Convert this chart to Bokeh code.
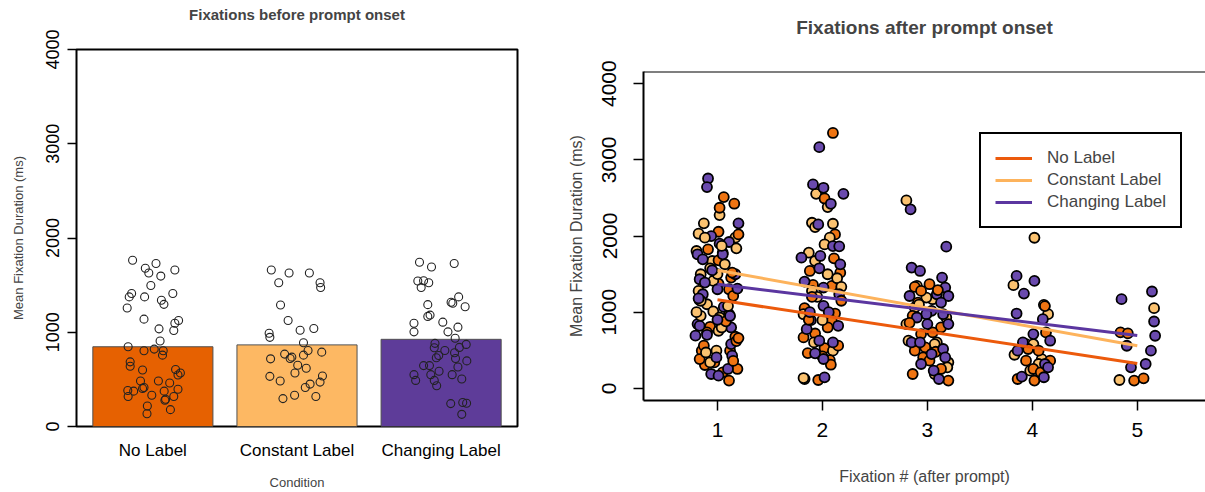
from bokeh.plotting import figure
from bokeh.layouts import row, column
from bokeh.models import (FixedTicker, Span, Legend, LegendItem, ColumnDataSource,
                          Range1d, Title)
from bokeh.embed import file_html
from bokeh.resources import INLINE

FONT = "Liberation Sans"

# ---------------- data: left panel ----------------
conditions = ["No Label", "Constant Label", "Changing Label"]
bar_means = [846, 866, 925]
bar_colors = ["#E66101", "#FDB863", "#5E3C99"]

nolabel_pre_jit = [-0.169, 0.026, -0.063, 0.183, -0.034, 0.066, -0.017, 0.166, -0.177, -0.069,
                   -0.197, 0.071, 0.092, -0.214, -0.074, 0.214, 0.183, 0.051, 0.174, 0.060,
                   -0.206, -0.074, 0.011, 0.086, 0.080, -0.189, -0.189, -0.086, 0.189, 0.229,
                   0.209, -0.103, 0.046, 0.140, -0.209, -0.160, -0.074, -0.086, 0.209, -0.009,
                   0.094, -0.206, 0.174, 0.106, 0.100, -0.046, 0.146, -0.049]
nolabel_pre_ms = [1764, 1729, 1679, 1661, 1629, 1596, 1496, 1411, 1411, 1375,
                  1375, 1339, 1296, 1257, 1139, 1125, 1096, 1036, 1018, 907,
                  846, 804, 821, 804, 757, 686, 639, 600, 604, 568,
                  546, 482, 482, 461, 382, 375, 414, 404, 396, 332,
                  375, 318, 318, 289, 279, 218, 179, 136]
constant_pre_jit = [-0.214, -0.066, 0.103, -0.152, 0.192, 0.197, -0.137, -0.074, 0.026, 0.140,
                    -0.232, -0.226, 0.054, 0.092, -0.103, -0.043, 0.206, -0.220, -0.057, 0.054,
                    0.006, 0.077, -0.017, -0.226, 0.212, -0.140, 0.192, 0.109, 0.069, -0.020,
                    -0.117, 0.157]
constant_pre_ms = [1661, 1629, 1629, 1525, 1525, 1475, 1289, 1125, 1021, 1039,
                   989, 946, 889, 807, 768, 736, 789, 718, 721, 757,
                   650, 618, 568, 532, 536, 482, 471, 450, 414, 332,
                   296, 318]
changing_pre_jit = [-0.180, -0.080, 0.109, -0.194, -0.146, -0.103, -0.166, -0.111, 0.083, 0.146,
                    0.200, 0.097, -0.092, -0.111, 0.014, -0.226, -0.226, 0.057, 0.140, 0.117,
                    -0.051, -0.057, 0.031, 0.152, 0.209, 0.112, -0.020, -0.040, 0.120, 0.214,
                    -0.097, -0.146, -0.017, 0.140, -0.226, -0.212, -0.086, 0.092, -0.057, 0.172,
                    -0.037, 0.080, 0.180, 0.212, 0.172]
changing_pre_ms = [1743, 1693, 1729, 1543, 1546, 1525, 1475, 1293, 1318, 1375,
                   1271, 1307, 1182, 1168, 1107, 1096, 1004, 1004, 1054, 936,
                   882, 836, 807, 839, 871, 782, 754, 729, 721, 696,
                   646, 646, 586, 632, 550, 489, 550, 550, 489, 504,
                   432, 243, 254, 246, 129]

# ---------------- data: right panel ----------------
fix_ticks = [1, 2, 3, 4, 5]

nolabel_fix = [1]*30 + [2]*24 + [3]*18 + [4]*10 + [5]*4
nolabel_jit = [0.06, 0.16, 0.02, 0.01, 0.20, -0.09, 0.05, 0.01, 0.13, 0.01,
               0.11, 0.15, 0.11, -0.07, -0.10, 0.17, 0.12, -0.15, -0.12, -0.03,
               0.19, 0.11, -0.17, 0.05, 0.08, 0.18, 0.20, -0.13, 0.14, 0.15,
               0.10, 0.02, 0.12, 0.11, -0.12, 0.17, -0.09, 0.09, -0.17, 0.12,
               0.09, 0.05, -0.07, -0.18, 0.02, -0.14, 0.07, 0.08, -0.04, 0.18,
               -0.13, 0.15, 0.00, -0.10,
               -0.12, 0.02, -0.06, -0.09, -0.14, 0.13, 0.05, -0.06, -0.02, -0.12,
               -0.04, -0.14, 0.13, 0.20, 0.02, 0.10, -0.17, 0.08,
               0.13, -0.04, 0.06, 0.17, -0.06, 0.01, 0.02, -0.14, 0.08, 0.12,
               -0.16, -0.09, -0.03, 0.06]
nolabel_ms = [2511, 2424, 2371, 2056, 2021, 1825, 1781, 1681, 1454, 1375,
              1301, 1214, 974, 808, 734, 677, 494, 494, 306, 340,
              254, 101, 384, 210, 880, 620, 660, 560, 1520, 360,
              3353, 2493, 2021, 1707, 1541, 1519, 1358, 1345, 1052, 982,
              886, 799, 720, 668, 529, 463, 371, 310, 109, 1150,
              900, 560, 420, 1200,
              1331, 1367, 1279, 1126, 952, 799, 734, 712, 537, 494,
              406, 188, 254, 101, 363, 1290, 860, 480,
              734, 516, 494, 363, 363, 254, 101, 122, 210, 1080,
              734, 721, 101, 131]

constant_fix = [1]*28 + [2]*20 + [3]*14 + [4]*10 + [5]*2
constant_jit = [0.02, -0.13, -0.18, 0.17, -0.12, -0.20, -0.05, 0.18, 0.07, -0.07,
                -0.16, -0.04, -0.18, -0.17, -0.10, -0.04, 0.02, -0.16, 0.01, 0.04,
                -0.01, -0.07, -0.20, -0.16, 0.00, 0.10, 0.04, -0.11,
                -0.06, 0.05, -0.10, 0.10, -0.07, 0.07, 0.02, -0.13, -0.07, 0.05,
                0.14, -0.10, 0.18, -0.05, -0.18, 0.00, -0.08, 0.10, -0.17, -0.18,
                -0.20, -0.10, 0.05, -0.01, -0.12, 0.18, -0.20, -0.18, 0.09, 0.07,
                0.20, 0.07, 0.19, -0.08,
                0.02, -0.18, 0.11, 0.15, -0.06, 0.01, 0.09, -0.17, 0.06, -0.02,
                0.16, -0.17]
constant_ms = [2275, 2166, 2030, 1978, 1978, 1803, 1672, 1838, 1629, 1576,
               1498, 1410, 1279, 1157, 1104, 1009, 930, 952, 756, 799,
               494, 340, 1000, 1150, 1500, 1080, 1870, 470,
               2554, 2380, 2174, 2161, 2117, 1978, 1890, 1781, 1672, 1498,
               1445, 1279, 1332, 1200, 973, 895, 603, 494, 122, 135,
               2467, 1345, 1170, 1191, 1061, 930, 843, 625, 603, 581,
               341, 188, 275, 1100,
               1977, 1354, 1096, 974, 581, 581, 384, 441, 319, 232,
               1052, 109]

changing_fix = [1]*31 + [2]*26 + [3]*24 + [4]*13 + [5]*8
changing_jit = [-0.09, -0.10, 0.20, -0.06, 0.11, 0.02, -0.19, -0.14, 0.05, 0.17,
                -0.17, -0.12, 0.00, -0.14, 0.06, -0.19, -0.21, -0.10, 0.13, 0.13,
                0.14, -0.01, -0.06, 0.01, 0.10, -0.17, -0.18, 0.00, 0.12, -0.05,
                0.19,
                -0.03, -0.09, 0.01, 0.08, 0.20, -0.04, 0.10, 0.16, -0.20, -0.02,
                0.17, -0.03, -0.17, 0.01, 0.16, 0.01, -0.11, 0.15, -0.15, -0.03,
                0.10, -0.07, 0.01, 0.02, -0.12, 0.06,
                -0.16, 0.18, -0.15, -0.07, 0.14, 0.17, -0.17, 0.20, 0.09, 0.13,
                0.04, -0.01, -0.10, 0.15, 0.20, 0.00, -0.15, -0.07, 0.15, 0.04,
                0.17, 0.06, 0.11, -0.06,
                -0.15, 0.02, -0.08, -0.15, 0.10, 0.01, -0.09, 0.17, -0.14, 0.12,
                0.11, -0.10, 0.15,
                -0.15, 0.14, 0.16, 0.17, -0.10, 0.13, 0.08, -0.06]
changing_ms = [2755, 2642, 2166, 1999, 1921, 1899, 1760, 1694, 1760, 1498,
               1432, 1389, 1301, 1235, 1069, 843, 691, 703, 799, 581,
               428, 406, 188, 166, 254, 820, 1180, 900, 950, 1550,
               1310,
               3166, 2677, 2633, 2423, 2554, 2152, 1868, 1864, 1716, 1738,
               1628, 1576, 1401, 1323, 1235, 1083, 895, 821, 777, 625,
               603, 459, 385, 144, 1000, 1000,
               2349, 1860, 1585, 1541, 1454, 1323, 1212, 1212, 1235, 1126,
               1017, 973, 930, 973, 843, 843, 603, 603, 516, 450,
               406, 232, 122, 319,
               1476, 1410, 1244, 982, 908, 712, 603, 625, 494, 319,
               145, 153, 275,
               1171, 1271, 877, 690, 559, 494, 319, 275]

# regression line end points (at fixation 1 and fixation 5)
fit_x = [1, 5]
nolabel_fit = [1162, 327]
constant_fit = [1551, 559]
changing_fit = [1367, 694]

point_colors = ["#EF7412", "#FBC270", "#6A4AAE"]
line_colors = ["#EC5A0C", "#FDB35C", "#5B36A0"]

# ---------------- left figure ----------------
bar_x = [0.7 + 1.2 * i for i in range(3)]

p1 = figure(width=557, height=492, x_range=Range1d(0.064, 3.736), y_range=Range1d(0, 4000),
            output_backend="svg", toolbar_location=None,
            min_border_left=76, min_border_right=40, min_border_top=49, min_border_bottom=66)
p1.add_layout(Title(text="Fixations before prompt onset\n ", align="center", text_font=FONT,
                    text_font_size="15px", text_font_style="bold", text_line_height=1.45,
                    standoff=3), "above")
p1.grid.visible = False
p1.outline_line_color = "black"
p1.outline_line_width = 2
p1.outline_line_alpha = 1

p1.vbar(x=bar_x, top=bar_means, width=1.0, fill_color=bar_colors, line_color="#505050",
        line_width=1)

for i, (jit, ms) in enumerate([(nolabel_pre_jit, nolabel_pre_ms),
                               (constant_pre_jit, constant_pre_ms),
                               (changing_pre_jit, changing_pre_ms)]):
    xs = [bar_x[i] + j for j in jit]
    p1.scatter(xs, ms, size=8, fill_color=None, line_color="#222222", line_width=1.1)

xa = p1.xaxis[0]
xa.ticker = FixedTicker(ticks=bar_x)
xa.major_label_overrides = {bar_x[i]: conditions[i] for i in range(3)}
xa.major_tick_out = 0
xa.major_tick_in = 0
xa.minor_tick_line_color = None
xa.axis_line_color = None
xa.major_label_text_font = FONT
xa.major_label_text_font_size = "17px"
xa.major_label_text_color = "black"
xa.major_label_standoff = 14
xa.axis_label = "Condition"
xa.axis_label_text_font = FONT
xa.axis_label_text_font_size = "13px"
xa.axis_label_text_font_style = "normal"
xa.axis_label_standoff = 12

ya = p1.yaxis[0]
ya.ticker = FixedTicker(ticks=[0, 1000, 2000, 3000, 4000])
ya.major_tick_out = 9
ya.major_tick_in = 0
ya.major_tick_line_width = 1.5
ya.major_tick_line_color = "black"
ya.minor_tick_line_color = None
ya.axis_line_color = None
ya.major_label_orientation = "vertical"
ya.major_label_text_font = FONT
ya.major_label_text_font_size = "18px"
ya.major_label_text_color = "black"
ya.major_label_standoff = 9
ya.axis_label = "Mean Fixation Duration (ms)"
ya.axis_label_text_font = FONT
ya.axis_label_text_font_size = "13px"
ya.axis_label_text_font_style = "normal"
ya.axis_label_standoff = 17

# ---------------- right figure ----------------
p2 = figure(width=648, height=492, x_range=Range1d(0.295, 5.65), y_range=Range1d(-160, 4160),
            output_backend="svg", toolbar_location=None,
            min_border_left=86, min_border_right=0, min_border_top=71, min_border_bottom=92)
p2.add_layout(Title(text="Fixations after prompt onset\n ", align="center", text_font=FONT,
                    text_font_size="19px", text_font_style="bold", text_line_height=1.35,
                    standoff=10), "above")
p2.grid.visible = False
p2.outline_line_color = None

# interleave the three groups so colours overlap as in a mixed plot
groups = [(nolabel_fix, nolabel_jit, nolabel_ms, point_colors[0]),
          (constant_fix, constant_jit, constant_ms, point_colors[1]),
          (changing_fix, changing_jit, changing_ms, point_colors[2])]
xs, ys, cs = [], [], []
maxn = max(len(g[0]) for g in groups)
for k in range(maxn):
    for f, j, m, c in groups:
        if k < len(f):
            xs.append(f[k] + j[k])
            ys.append(m[k])
            cs.append(c)
src = ColumnDataSource(dict(x=xs, y=ys, c=cs))
p2.scatter("x", "y", source=src, size=10, fill_color="c", line_color="black", line_width=1.8)

r_lines = []
for fit, col in zip([nolabel_fit, constant_fit, changing_fit], line_colors):
    r_lines.append(p2.line(fit_x, fit, line_color=col, line_width=3))

legend = Legend(items=[LegendItem(label=conditions[i], renderers=[r_lines[i]]) for i in range(3)],
                location=(336, 172), border_line_color="black", border_line_width=2,
                border_line_alpha=1, background_fill_alpha=1, padding=14, spacing=2,
                glyph_width=37, glyph_height=20, label_standoff=15, label_height=20,
                label_text_font=FONT, label_text_font_size="17px", margin=0)
p2.add_layout(legend, "center")

p2.add_layout(Span(location=p2.y_range.end, dimension="width", line_color="black", line_width=2))

xb = p2.xaxis[0]
xb.ticker = FixedTicker(ticks=fix_ticks)
xb.major_tick_out = 10
xb.major_tick_in = 0
xb.major_tick_line_width = 1.5
xb.minor_tick_line_color = None
xb.axis_line_width = 2
xb.major_label_text_font = FONT
xb.major_label_text_font_size = "21px"
xb.major_label_text_color = "black"
xb.major_label_standoff = 12
xb.axis_label = "Fixation # (after prompt)"
xb.axis_label_text_font = FONT
xb.axis_label_text_font_size = "16px"
xb.axis_label_text_font_style = "normal"
xb.axis_label_standoff = 28

yb = p2.yaxis[0]
yb.ticker = FixedTicker(ticks=[0, 1000, 2000, 3000, 4000])
yb.major_tick_out = 10
yb.major_tick_in = 0
yb.major_tick_line_width = 1.5
yb.minor_tick_line_color = None
yb.axis_line_width = 2
yb.major_label_orientation = "vertical"
yb.major_label_text_font = FONT
yb.major_label_text_font_size = "21px"
yb.major_label_text_color = "black"
yb.major_label_standoff = 17
yb.axis_label = "Mean Fixation Duration (ms)"
yb.axis_label_text_font = FONT
yb.axis_label_text_font_size = "16px"
yb.axis_label_text_font_style = "normal"
yb.axis_label_standoff = 15

layout = row(column(p1), column(p2))
open("out.html", "w").write(file_html(layout, INLINE))
